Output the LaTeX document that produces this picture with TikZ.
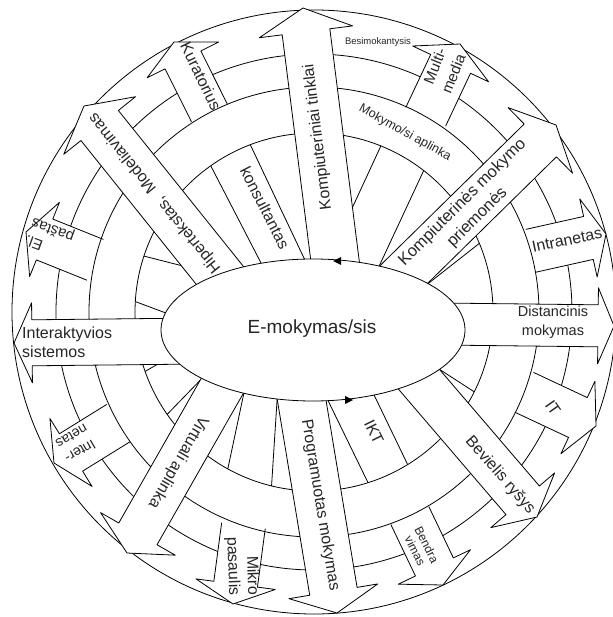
\documentclass[tikz,border=0pt]{standalone}
\usepackage{fontspec}
\setmainfont{Liberation Sans}
\usetikzlibrary{calc}
\newcommand{\blockarrow}[6]{% #1 start, #2 tip, #3 half body, #4 half head, #5 head length, #6 name
  \coordinate (#6-s) at #1;
  \coordinate (#6-t) at #2;
  \coordinate (#6-h) at ($(#6-t)!#5!(#6-s)$);
  \coordinate (#6-a) at ($(#6-s)!#3!90:(#6-t)$);
  \coordinate (#6-b) at ($(#6-h)!#3!-90:(#6-s)$);
  \coordinate (#6-c) at ($(#6-h)!#4!-90:(#6-s)$);
  \coordinate (#6-d) at ($(#6-h)!#4!90:(#6-s)$);
  \coordinate (#6-e) at ($(#6-h)!#3!90:(#6-s)$);
  \coordinate (#6-f) at ($(#6-s)!#3!-90:(#6-t)$);
  \fill[white] (#6-a) -- (#6-b) -- (#6-c) -- (#6-t) -- (#6-d) -- (#6-e) -- (#6-f) -- cycle;
  \draw[ln] (#6-a) -- (#6-b) -- (#6-c) -- (#6-t) -- (#6-d) -- (#6-e) -- (#6-f);
}
\begin{document}
\begin{tikzpicture}[x=1pt,y=-1pt]
\tikzset{
  ln/.style={line width=0.8pt, line join=round, draw=black},
  lbl/.style={font=\fontsize{16}{19}\selectfont, inner sep=0pt, align=center, text=black!85},
}
\useasboundingbox (0,0) rectangle (612,617);
\coordinate (O) at (314,312);
% outer circle and rings
\draw[ln] (O) circle[radius=302pt];
\draw[ln] (O) circle[radius=258pt];
\draw[ln] (O) circle[radius=179pt];
% inner band boxes
\begin{scope}
\clip (O) circle[radius=179pt];
\draw[ln] (200,145) -- (275,290);
\draw[ln] (240,123) -- (312,275);
\draw[ln] (385,137) -- (330,256);
\draw[ln] (430,157) -- (375,275);
\draw[ln] (120,250) -- (230,278);
\draw[ln] (115,294) -- (190,322);
\draw[ln] (130,380) -- (200,340);
\draw[ln] (152,430) -- (215,365);
\draw[ln] (252,355) -- (218,515);
\draw[ln] (279,370) -- (270,510);
\draw[ln] (318,380) -- (375,497);
\draw[ln] (362,370) -- (418,486);
\draw[ln] (425,360) -- (490,402);
\draw[ln] (420,290) -- (490,235);
\end{scope}
% short arrows
\blockarrow{($(O)!225pt!(211,116)$)}{(174,42)}{20pt}{40pt}{20pt}{kur}
\blockarrow{($(O)!225pt!(425,118)$)}{(460,44)}{22pt}{42pt}{22pt}{mul}
\blockarrow{($(O)!225pt!(530,251)$)}{(606,234)}{22pt}{40pt}{18pt}{intr}
\blockarrow{($(O)!225pt!(526,393)$)}{(596,426)}{22pt}{40pt}{20pt}{it}
\blockarrow{($(O)!225pt!(411,518)$)}{(443,585)}{21pt}{40pt}{20pt}{ben}
\blockarrow{($(O)!225pt!(243,527)$)}{(233,604)}{22pt}{40pt}{20pt}{mik}
\blockarrow{($(O)!225pt!(115,425)$)}{(54,463)}{22pt}{40pt}{20pt}{inet}
\blockarrow{($(O)!225pt!(96,260)$)}{(26,232)}{22pt}{40pt}{20pt}{el}
\draw[ln] (O) circle[radius=225pt];
% long arrows
\blockarrow{(340,300)}{(303,8)}{24pt}{47pt}{24pt}{kt}
\blockarrow{(295,360)}{(337,613)}{24pt}{45pt}{22pt}{pm}
\blockarrow{(200,341)}{(14,343)}{23pt}{40pt}{18pt}{is}
\blockarrow{(440,324)}{(614,326)}{21pt}{38pt}{16pt}{dm}
\blockarrow{(241,353)}{(127,553)}{22pt}{43pt}{22pt}{va}
\blockarrow{(387,342)}{(537,517)}{22pt}{42pt}{22pt}{br}
\blockarrow{(254,318)}{(84,106)}{24pt}{46pt}{25pt}{hm}
\blockarrow{(384,294)}{(556,125)}{23pt}{46pt}{22pt}{kmp}
% centre
\draw[ln, fill=white] (313,330) ellipse [x radius=152pt, y radius=71pt];
\node[lbl, font=\fontsize{19}{22}\selectfont] (c) at (312,329) {E-mokymas/sis};
\fill (333,261) -- (341,257) -- (341,265) -- cycle;
\fill (353,400) -- (345,396) -- (345,404) -- cycle;
% labels
\node[lbl, rotate=97] (t1) at (318,137) {Kompiuteriniai tinklai};
\node[lbl, rotate=-80.6] (t2) at (320,505) {Programuotas mokymas};
\node[lbl, anchor=west, align=left] (t3) at (22,342) {Interaktyvios\\sistemos};
\node[lbl, font=\fontsize{14.5}{19}\selectfont] (t4) at (553,322) {Distancinis\\mokymas};
\node[lbl, rotate=-120] (t5) at (178,462) {Virtuali aplinka};
\node[lbl, rotate=-48.7] (t6) at (500,475) {Bevielis ryšys};
\node[lbl, rotate=129] (t7) at (155,193) {Hipertekstas,\ \ Modeliavimas};
\node[lbl, rotate=45, font=\fontsize{16.5}{21}\selectfont] (t8) at (470,210) {Kompiuterinės mokymo\\priemonės};
\node[lbl, rotate=-64] (t9) at (201,76) {Kuratorius};
\node[lbl, rotate=68, font=\fontsize{15}{20}\selectfont] (t10) at (444,70) {Multi-\\media};
\node[lbl, rotate=12] (t11) at (567,240) {Intranetas};
\node[lbl, rotate=-55] (t12) at (553,408) {IT};
\node[lbl, rotate=-63, font=\fontsize{12}{13}\selectfont] (t13) at (421,548) {Bendra\\vimas};
\node[lbl, rotate=-88, align=right] (t14) at (242,566) {Mikro\\pasaulis};
\node[lbl, rotate=210, font=\fontsize{14}{17}\selectfont] (t15) at (76,444) {Inter-\\netas};
\node[lbl, rotate=160, align=right, font=\fontsize{15}{18}\selectfont] (t16) at (50,238) {El.\\paštas};
\node[lbl, rotate=-63] (t17) at (265,208) {konsultantas};
\node[lbl, rotate=-64] (t18) at (374,432) {IKT};
\node[lbl, rotate=-29, font=\fontsize{12.5}{15}\selectfont] (t19) at (405,133) {Mokymo/si aplinka};
\node[lbl, font=\fontsize{9.5}{11}\selectfont] (t20) at (378,42) {Besimokantysis};
\end{tikzpicture}
\end{document}
